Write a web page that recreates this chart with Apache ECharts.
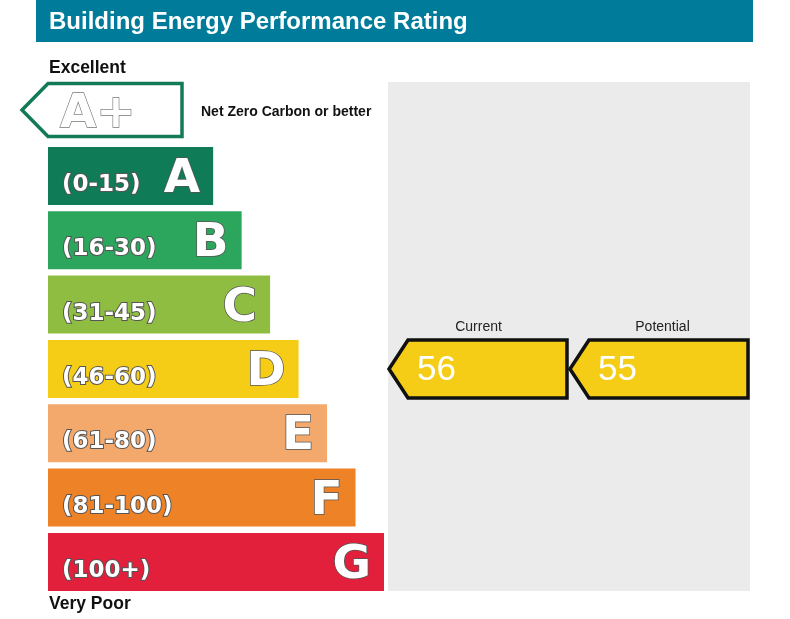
<!DOCTYPE html>
<html><head><meta charset="utf-8">
<script src="https://cdn.jsdelivr.net/npm/echarts@6/dist/echarts.min.js"></script>
<style>html,body{margin:0;padding:0;background:#fff}#c{width:790px;height:619px}</style>
</head><body><div id="c"></div>
<script>
// ---- data ----
const bands = ['A', 'B', 'C', 'D', 'E', 'F', 'G'];
const bandRanges = ['(0-15)', '(16-30)', '(31-45)', '(46-60)', '(61-80)', '(81-100)', '(100+)'];
const bandUpper = [15, 30, 45, 60, 80, 100, Infinity];
const bandLength = [5.8, 6.8, 7.8, 8.8, 9.8, 10.8, 11.8];
const ratingNames = ['Current', 'Potential'];
const ratingValues = [56, 55];
// ---- styles ----
const bandColors = ['#0f7b57', '#2ca65c', '#8ebd42', '#f6cd16', '#f2a96b', '#ee8227', '#e2203c'];

function bandOf(v) { return bandUpper.findIndex(u => v <= u); }

const chart = echarts.init(document.getElementById('c'), null, { renderer: 'canvas' });
const gridTop = 143.8, gridH = 450.3;

chart.setOption({
  animation: false,
  title: {
    text: 'Building Energy Performance Rating',
    left: 49, top: 8, padding: 0,
    textStyle: { color: '#fff', fontSize: 24, fontWeight: 'bold', fontFamily: 'Liberation Sans', lineHeight: 28 }
  },
  grid: [
    { left: 48, top: gridTop, width: 336, height: gridH },
    { left: 388, top: gridTop, width: 362, height: gridH }
  ],
  xAxis: [
    { gridIndex: 0, type: 'value', min: 0, max: 11.8, show: false },
    { gridIndex: 1, type: 'category', data: ratingNames, show: false }
  ],
  yAxis: [
    { gridIndex: 0, type: 'category', data: bands, inverse: true, show: false },
    { gridIndex: 1, type: 'category', data: bands, inverse: true, show: false }
  ],
  graphic: [
    { type: 'rect', z: 0, shape: { x: 36, y: 0, width: 717, height: 42 }, style: { fill: '#007c9a' } },
    { type: 'rect', z: 0, shape: { x: 388, y: 82, width: 362, height: 509 }, style: { fill: '#ebebeb' } },
    { type: 'text', z: 1, style: { text: 'Excellent', x: 49, y: 68.5, verticalAlign: 'middle', fill: '#111', font: 'bold 17.5px "Liberation Sans"' } },
    { type: 'text', z: 1, style: { text: 'Very Poor', x: 49, y: 604.5, verticalAlign: 'middle', fill: '#111', font: 'bold 17.5px "Liberation Sans"' } },
    { type: 'polygon', z: 1, shape: { points: [[22, 110], [48, 83.5], [182, 83.5], [182, 136.5], [48, 136.5]] },
      style: { fill: '#fff', stroke: '#127a55', lineWidth: 3.5 } },
    { type: 'text', z: 2, style: { text: 'A+', x: 60, y: 115, verticalAlign: 'middle', fill: '#fff', stroke: '#777', lineWidth: 1.3, font: 'bold 47px "DejaVu Sans"' } },
    { type: 'text', z: 1, style: { text: 'Net Zero Carbon or better', x: 201, y: 112, verticalAlign: 'middle', fill: '#111', font: 'bold 14px "Liberation Sans"' } }
  ],
  series: [
    {
      type: 'bar', xAxisIndex: 0, yAxisIndex: 0, barWidth: 58,
      data: bandLength.map((v, i) => ({ value: v, itemStyle: { color: bandColors[i] } })),
      label: {
        show: true, position: 'insideLeft', distance: 14, offset: [0, 9],
        formatter: p => bandRanges[p.dataIndex],
        color: '#fff', fontFamily: 'DejaVu Sans', fontWeight: 'bold', fontSize: 23,
        textBorderColor: '#555', textBorderWidth: 2
      }
    },
    {
      type: 'bar', xAxisIndex: 0, yAxisIndex: 0, barWidth: 58, barGap: '-100%',
      data: bandLength, itemStyle: { color: 'rgba(0,0,0,0)' },
      label: {
        show: true, position: 'insideRight', distance: 13, offset: [0, 4],
        formatter: p => bands[p.dataIndex],
        color: '#fff', fontFamily: 'DejaVu Sans', fontWeight: 'bold', fontSize: 47,
        textBorderColor: '#555', textBorderWidth: 1.5
      }
    },
    {
      type: 'custom', xAxisIndex: 1, yAxisIndex: 1,
      data: ratingValues.map((v, i) => ({ value: [i, bandOf(v), v], itemStyle: { color: bandColors[bandOf(v)] } })),
      renderItem: function (params, api) {
        const xi = api.value(0);
        const c = api.coord([xi, api.value(1)]);
        const colW = api.size([1, 0])[0];
        const h = 58;
        const left = c[0] - colW / 2, right = left + colW - 2;
        const top = c[1] - h / 2, bot = c[1] + h / 2;
        return {
          type: 'group', children: [
            { type: 'polygon', shape: { points: [[left + 1, c[1]], [left + 20, top], [right, top], [right, bot], [left + 20, bot]] },
              style: { fill: api.visual('color'), stroke: '#111', lineWidth: 3.5 } },
            { type: 'text', style: { text: String(api.value(2)), x: left + 29, y: c[1] + 1, verticalAlign: 'middle', fill: '#fff', font: '35px "Liberation Sans"' } },
            { type: 'text', style: { text: ratingNames[xi], x: c[0] + (xi ? 3 : 0), y: top - 13, align: 'center', verticalAlign: 'middle', fill: '#222', font: '14px "Liberation Sans"' } }
          ]
        };
      }
    }
  ]
});
</script></body></html>
